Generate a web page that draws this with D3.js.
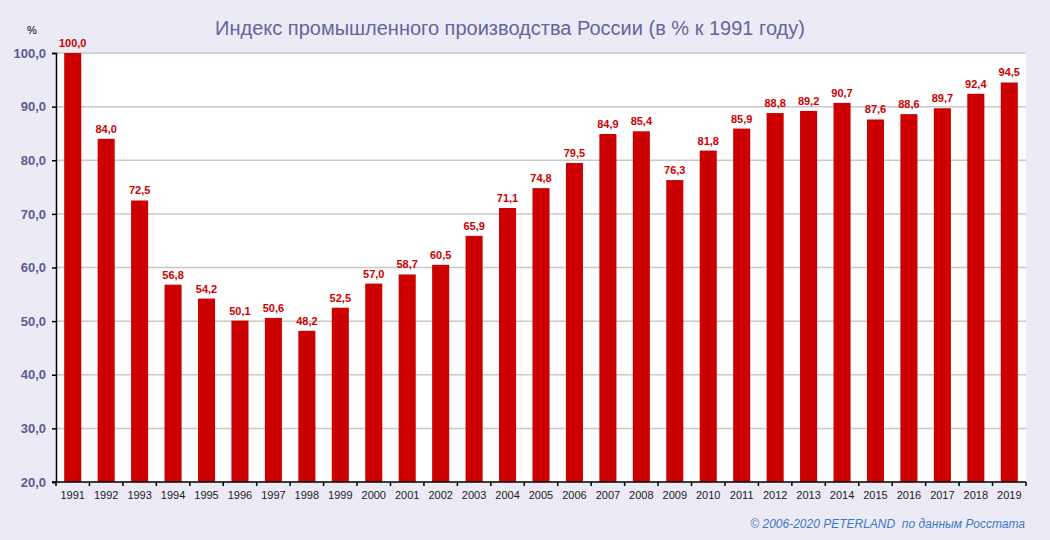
<!DOCTYPE html>
<html>
<head>
<meta charset="utf-8">
<script src="https://cdn.jsdelivr.net/npm/d3@7"></script>
<style>
  body { margin: 0; background: #ecebf5; }
  svg { display: block; font-family: "Liberation Sans", Arial, sans-serif; }
</style>
</head>
<body>
<script>
// Chart data
const years = ["1991", "1992", "1993", "1994", "1995", "1996", "1997", "1998", "1999", "2000",
  "2001", "2002", "2003", "2004", "2005", "2006", "2007", "2008", "2009", "2010",
  "2011", "2012", "2013", "2014", "2015", "2016", "2017", "2018", "2019"];
const values = [100.0, 84.0, 72.5, 56.8, 54.2, 50.1, 50.6, 48.2, 52.5, 57.0,
  58.7, 60.5, 65.9, 71.1, 74.8, 79.5, 84.9, 85.4, 76.3, 81.8,
  85.9, 88.8, 89.2, 90.7, 87.6, 88.6, 89.7, 92.4, 94.5];
const yTicks = [20, 30, 40, 50, 60, 70, 80, 90, 100];

const width = 1050;
const height = 540;

// Plot area edges
const plotLeft = 56;
const plotRight = 1026;
const plotTop = 53;
const plotBottom = 482;

const fmt = v => v.toFixed(1).replace(".", ",");

const svg = d3.select("body").append("svg")
  .attr("width", width)
  .attr("height", height)
  .attr("viewBox", [0, 0, width, height]);

svg.append("rect")
  .attr("width", width).attr("height", height)
  .attr("fill", "#ecebf5");

const xScale = d3.scaleBand().domain(years).range([plotLeft, plotRight]).paddingInner(0.49).paddingOuter(0.245);
const yScale = d3.scaleLinear().domain([20, 100]).range([plotBottom, plotTop]);

// White plot background
svg.append("rect")
  .attr("x", plotLeft).attr("y", plotTop)
  .attr("width", plotRight - plotLeft).attr("height", plotBottom - plotTop)
  .attr("fill", "#ffffff");

// Horizontal grid lines
svg.append("g")
  .selectAll("line")
  .data(yTicks.slice(1))
  .enter()
  .append("line")
  .attr("x1", plotLeft).attr("x2", plotRight)
  .attr("y1", d => yScale(d)).attr("y2", d => yScale(d))
  .attr("stroke", "#c8c8c8")
  .attr("stroke-width", 1.5);

// Bars
svg.append("g")
  .selectAll("rect")
  .data(values)
  .enter()
  .append("rect")
  .attr("x", (d, i) => xScale(years[i]))
  .attr("y", d => yScale(d))
  .attr("width", xScale.bandwidth())
  .attr("height", d => yScale(20) - yScale(d))
  .attr("fill", "#cc0000");

// Value labels
svg.append("g")
  .selectAll("text")
  .data(values)
  .enter()
  .append("text")
  .attr("x", (d, i) => xScale(years[i]) + xScale.bandwidth() / 2)
  .attr("y", d => yScale(d) - 6)
  .attr("text-anchor", "middle")
  .attr("fill", "#cc0000")
  .attr("font-size", 11)
  .attr("font-weight", "bold")
  .text(d => fmt(d));

// Y axis
const yAxis = d3.axisLeft(yScale).tickValues(yTicks).tickSize(4).tickPadding(6).tickFormat(fmt);
const yAxisRef = svg.append("g")
  .attr("transform", `translate(${plotLeft}, 0)`)
  .call(yAxis);
yAxisRef.select(".domain").attr("stroke", "#000").attr("stroke-width", 1.5);
yAxisRef.selectAll(".tick line").attr("stroke", "#000").attr("stroke-width", 1.5);
yAxisRef.selectAll(".tick text")
  .attr("fill", "#5a5a94")
  .attr("font-size", 13)
  .attr("font-weight", "bold")
  .attr("font-family", "Liberation Sans, Arial, sans-serif");

// X axis: ticks at category boundaries
const xAxisRef = svg.append("g")
  .attr("transform", `translate(0, ${plotBottom})`);
xAxisRef.append("line")
  .attr("x1", plotLeft - 4).attr("x2", plotRight)
  .attr("stroke", "#000").attr("stroke-width", 1.5);
const step = xScale.step();
xAxisRef.selectAll(".xtick")
  .data(d3.range(years.length + 1))
  .enter()
  .append("line")
  .attr("x1", i => plotLeft + i * step).attr("x2", i => plotLeft + i * step)
  .attr("y1", 0).attr("y2", 4)
  .attr("stroke", "#000").attr("stroke-width", 1.5);
xAxisRef.selectAll(".xlabel")
  .data(years)
  .enter()
  .append("text")
  .attr("x", d => xScale(d) + xScale.bandwidth() / 2)
  .attr("y", 17)
  .attr("text-anchor", "middle")
  .attr("font-size", 11)
  .attr("fill", "#1a1a1a")
  .text(d => d);

// Unit label
svg.append("text")
  .attr("x", 32).attr("y", 34)
  .attr("text-anchor", "middle")
  .attr("font-size", 11)
  .attr("font-weight", "normal")
  .attr("fill", "#000")
  .text("%");

// Title
svg.append("text")
  .attr("x", 510).attr("y", 35)
  .attr("text-anchor", "middle")
  .attr("font-size", 20)
  .attr("fill", "#64649e")
  .text("Индекс промышленного производства России (в % к 1991 году)");

// Source note
svg.append("text")
  .attr("x", 1025).attr("y", 528)
  .attr("text-anchor", "end")
  .attr("font-size", 12)
  .attr("font-style", "italic")
  .attr("fill", "#3a78c8")
  .attr("xml:space", "preserve")
  .text("© 2006-2020 PETERLAND  по данным Росстата");
</script>
</body>
</html>
